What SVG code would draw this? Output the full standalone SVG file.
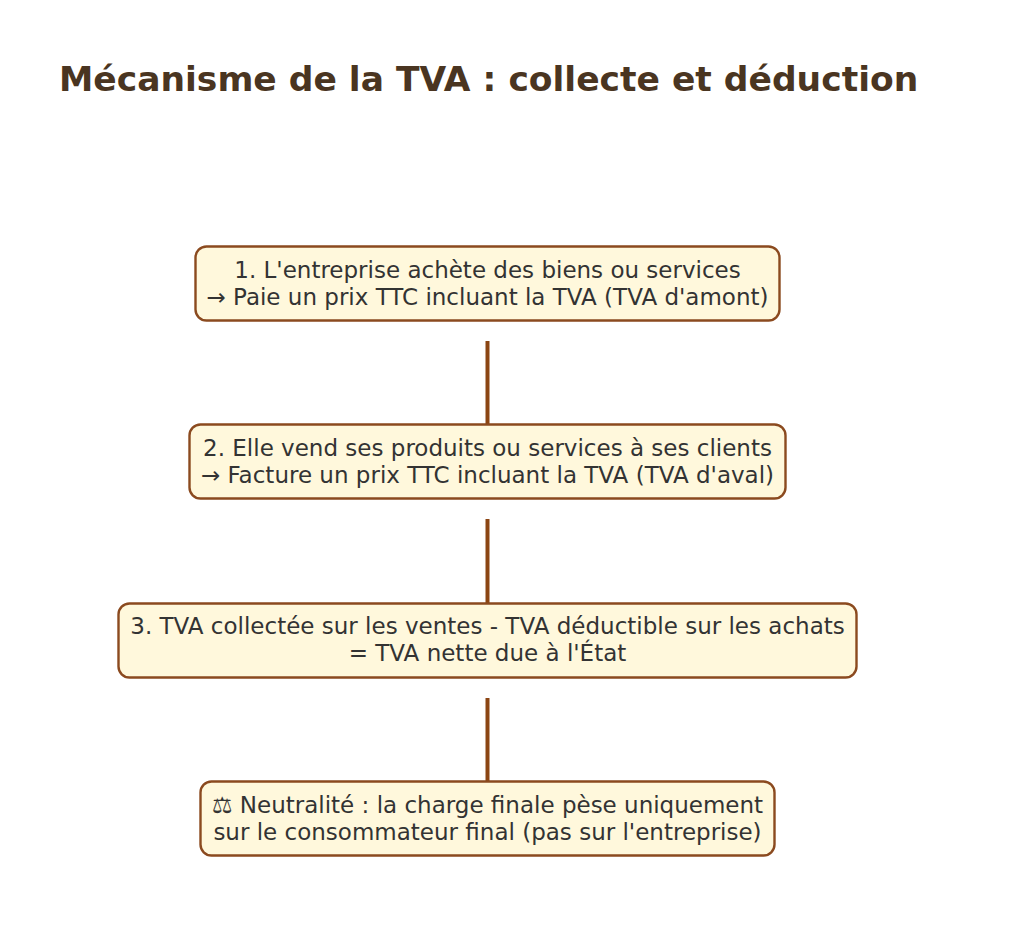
<svg xmlns="http://www.w3.org/2000/svg" width="1012" height="942" viewBox="0 0 1012 942">
<style>
.box{fill:#FFF8DC;stroke:#8B4A1F;stroke-width:2.4}
.t{font-family:"DejaVu Sans",sans-serif;font-size:23px;fill:#333333;text-anchor:middle}
.title{font-family:"DejaVu Sans",sans-serif;font-size:34.5px;font-weight:bold;fill:#4A3521}
.c{stroke:#8B4513;stroke-width:4;fill:none}
</style>
<rect width="1012" height="942" fill="#FFFFFF"/>
<text class="title" x="59" y="91">Mécanisme de la TVA : collecte et déduction</text>
<g id="connectors">
<line class="c" x1="487.5" y1="341" x2="487.5" y2="424"/>
<line class="c" x1="487.5" y1="519" x2="487.5" y2="603"/>
<line class="c" x1="487.5" y1="698" x2="487.5" y2="781"/>
</g>
<g id="node1">
<rect class="box" x="195.5" y="246.5" width="584" height="74" rx="11"/>
<text class="t" x="487.5" y="278">1. L'entreprise achète des biens ou services</text>
<text class="t" x="487.5" y="305">→ Paie un prix TTC incluant la TVA (TVA d'amont)</text>
</g>
<g id="node2">
<rect class="box" x="189.5" y="424.5" width="596" height="74" rx="11"/>
<text class="t" x="487.5" y="456">2. Elle vend ses produits ou services à ses clients</text>
<text class="t" x="487.5" y="483">→ Facture un prix TTC incluant la TVA (TVA d'aval)</text>
</g>
<g id="node3">
<rect class="box" x="118.5" y="603.5" width="738" height="74" rx="11"/>
<text class="t" x="487.5" y="634">3. TVA collectée sur les ventes - TVA déductible sur les achats</text>
<text class="t" x="487.5" y="661">= TVA nette due à l'État</text>
</g>
<g id="node4">
<rect class="box" x="200.5" y="781.5" width="574" height="74" rx="11"/>
<text class="t" x="487.5" y="813">⚖ Neutralité : la charge finale pèse uniquement</text>
<text class="t" x="487.5" y="840">sur le consommateur final (pas sur l'entreprise)</text>
</g>
</svg>
